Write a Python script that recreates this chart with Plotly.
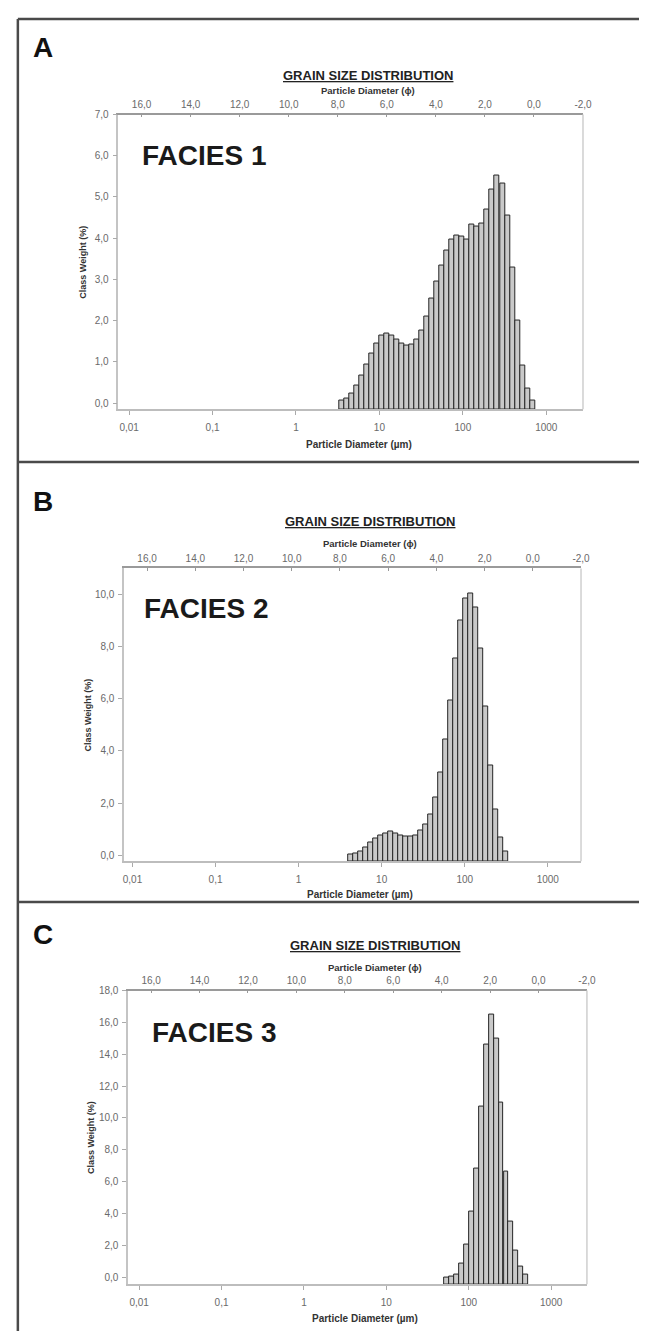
import numpy as np
import plotly.graph_objects as go

# ---------------- data ----------------
# class mid-point diameters (µm) and class weights (%)
diam_A = [3.52, 4.04, 4.64, 5.33, 6.12, 7.03, 8.07, 9.27, 10.7, 12.2, 14.1, 16.1, 18.5,
          21.3, 24.5, 28.1, 32.3, 37.1, 42.6, 49.0, 56.2, 64.6, 74.2, 85.3, 97.9, 112,
          129, 148, 171, 196, 225, 258, 297, 341, 392, 450, 517, 593, 682]
weight_A = [0.05, 0.11, 0.24, 0.42, 0.66, 0.94, 1.21, 1.45, 1.64, 1.68, 1.64, 1.53, 1.44,
            1.39, 1.43, 1.53, 1.76, 2.11, 2.54, 2.94, 3.34, 3.71, 3.96, 4.07, 4.03, 3.96,
            4.32, 4.28, 4.35, 4.69, 5.19, 5.51, 5.33, 4.54, 3.29, 1.99, 0.90, 0.34, 0.05]

diam_B = [4.28, 4.91, 5.64, 6.48, 7.44, 8.55, 9.82, 11.3, 13.0, 14.9, 17.1, 19.6, 22.5,
          25.9, 29.8, 34.2, 39.3, 45.1, 51.9, 59.6, 68.4, 78.5, 90.2, 104, 119, 137, 157,
          180, 207, 238, 274, 314]
weight_B = [0.03, 0.06, 0.13, 0.29, 0.47, 0.64, 0.76, 0.85, 0.89, 0.85, 0.76, 0.70, 0.70,
            0.76, 0.93, 1.17, 1.56, 2.23, 3.18, 4.43, 5.92, 7.54, 9.01, 9.83, 10.05, 9.50,
            7.93, 5.72, 3.46, 1.74, 0.67, 0.15]

diam_C = [53.7, 61.7, 70.9, 81.4, 93.5, 107, 123, 142, 163, 187, 215, 247, 284, 326, 374, 430, 494]
weight_C = [0.0, 0.05, 0.19, 0.88, 2.06, 4.10, 6.85, 10.71, 14.63, 16.5, 14.98, 10.94, 6.65,
            3.48, 1.65, 0.67, 0.15]

um_tick_values = [0.01, 0.1, 1, 10, 100, 1000]
um_tick_labels = ["0,01", "0,1", "1", "10", "100", "1000"]
phi_tick_values = [16, 14, 12, 10, 8, 6, 4, 2, 0, -2]
phi_tick_labels = ["16,0", "14,0", "12,0", "10,0", "8,0", "6,0", "4,0", "2,0", "0,0", "-2,0"]

facies_names = ["FACIES 1", "FACIES 2", "FACIES 3"]
panel_letters = ["A", "B", "C"]
title_text = "GRAIN SIZE DISTRIBUTION"
top_axis_title = "Particle Diameter (ϕ)"
bottom_axis_title = "Particle Diameter (µm)"
y_axis_title = "Class Weight (%)"

# ---------------- layout geometry (pixels) ----------------
W, H = 647, 1331
FONT = "Liberation Sans, Arial, sans-serif"


def px(x):
    return x / W


def py(y):
    return 1 - y / H


panels = [
    dict(d=diam_A, w=weight_A, yr=[-0.15, 7.0], ytv=[0, 1, 2, 3, 4, 5, 6, 7],
         xr=[-2.13, 3.44], left=111, right=583, top=101, bottom=397,
         letter_y=34, grain_y=62, phi_title_y=77, xlab_y=432, ytitle_x=75,
         facies_x=133, facies_y=142),
    dict(d=diam_B, w=weight_B, yr=[-0.23, 11.0], ytv=[0, 2, 4, 6, 8, 10],
         xr=[-2.10, 3.40], left=117, right=581, top=557, bottom=851,
         letter_y=490, grain_y=510, phi_title_y=532, xlab_y=884, ytitle_x=80,
         facies_x=135, facies_y=597),
    dict(d=diam_C, w=weight_C, yr=[-0.44, 18.0], ytv=[0, 2, 4, 6, 8, 10, 12, 14, 16, 18],
         xr=[-2.134, 3.434], left=121, right=587, top=981, bottom=1276,
         letter_y=925, grain_y=936, phi_title_y=958, xlab_y=1310, ytitle_x=84,
         facies_x=143, facies_y=1023),
]

fig = go.Figure()
layout = dict(width=W, height=H, margin=dict(l=0, r=0, t=0, b=0), autosize=False,
              paper_bgcolor="white", plot_bgcolor="white", showlegend=False,
              bargap=0, font=dict(family=FONT))
annotations = []
shapes = []

tickfont = dict(family=FONT, size=10, color="#6a6a6a")

for i, p in enumerate(panels):
    n = i + 1
    xb = "x" if n == 1 else f"x{n}"
    yb = "y" if n == 1 else f"y{n}"
    xt = f"x{n + 3}"
    d = np.array(p["d"], dtype=float)
    w = np.array(p["w"], dtype=float)
    logd = np.log10(d)
    step = float(np.mean(np.diff(logd)))
    ymin = p["yr"][0]

    fig.add_trace(go.Bar(
        x=logd, y=w - ymin, base=ymin, width=np.full(len(d), step),
        xaxis=xb, yaxis=yb,
        marker=dict(color="#c9c9c9", line=dict(color="#262626", width=1)),
        hoverinfo="skip"))
    # phi companion trace (invisible) so the top phi axis is drawn
    fig.add_trace(go.Scatter(
        x=-np.log2(d / 1000.0), y=w, xaxis=xt, yaxis=yb, mode="markers",
        marker=dict(opacity=0, size=1), hoverinfo="skip"))

    xdom = [px(p["left"]), px(p["right"])]
    ydom = [py(p["bottom"]), py(p["top"])]

    layout["xaxis" if n == 1 else f"xaxis{n}"] = dict(
        domain=xdom, anchor=yb, range=p["xr"], type="linear",
        tickvals=list(np.log10(um_tick_values)), ticktext=um_tick_labels,
        ticks="outside", ticklen=4, tickcolor="#aaaaaa", tickwidth=1,
        showline=True, linecolor="#bdbdbd", linewidth=1.5,
        showgrid=False, zeroline=False, tickfont=tickfont, ticklabelstandoff=4)
    layout[f"xaxis{n + 3}"] = dict(
        domain=xdom, anchor=yb, overlaying=xb, side="top", range=[16.95, -2.0],
        tickvals=phi_tick_values, ticktext=phi_tick_labels,
        ticks="inside", ticklen=3, tickcolor="#999999", tickwidth=1,
        showline=True, linecolor="#9a9a9a", linewidth=1.5,
        showgrid=False, zeroline=False, tickfont=tickfont, ticklabelstandoff=1)
    layout["yaxis" if n == 1 else f"yaxis{n}"] = dict(
        domain=ydom, anchor=xb, range=p["yr"],
        tickvals=p["ytv"], ticktext=[f"{v:.1f}".replace(".", ",") for v in p["ytv"]],
        ticks="outside", ticklen=4, tickcolor="#aaaaaa", tickwidth=1,
        showline=True, linecolor="#c4c4c4", linewidth=1.5,
        showgrid=False, zeroline=False, tickfont=tickfont, ticklabelstandoff=2)

    # right border of plot area
    shapes.append(dict(type="line", xref="paper", yref="paper",
                       x0=px(p["right"]), x1=px(p["right"]),
                       y0=py(p["bottom"]), y1=py(p["top"]),
                       line=dict(color="#cfcfcf", width=1.5)))

    cx = px((p["left"] + p["right"]) / 2 + 18)
    annotations += [
        dict(text=f"<b>{panel_letters[i]}</b>", x=px(22), y=py(p["letter_y"]),
             xref="paper", yref="paper", xanchor="left", yanchor="middle",
             showarrow=False, font=dict(family=FONT, size=28, color="#111")),
        dict(text=f"<b><u>{title_text}</u></b>", x=cx, y=py(p["grain_y"]),
             xref="paper", yref="paper", xanchor="center", yanchor="middle",
             showarrow=False, font=dict(family=FONT, size=13, color="#222")),
        dict(text=f"<b>{top_axis_title}</b>", x=cx, y=py(p["phi_title_y"]),
             xref="paper", yref="paper", xanchor="center", yanchor="middle",
             showarrow=False, font=dict(family=FONT, size=9.5, color="#333")),
        dict(text=f"<b>{bottom_axis_title}</b>", x=px((p["left"] + p["right"]) / 2 + 8),
             y=py(p["xlab_y"]), xref="paper", yref="paper", xanchor="center",
             yanchor="middle", showarrow=False,
             font=dict(family=FONT, size=10, color="#333")),
        dict(text=f"<b>{y_axis_title}</b>", x=px(p["ytitle_x"]),
             y=py((p["top"] + p["bottom"]) / 2), xref="paper", yref="paper",
             xanchor="center", yanchor="middle", textangle=-90, showarrow=False,
             font=dict(family=FONT, size=9, color="#333")),
        dict(text=f"<b>{facies_names[i]}</b>", x=px(p["facies_x"]), y=py(p["facies_y"]),
             xref="paper", yref="paper", xanchor="left", yanchor="middle",
             showarrow=False, font=dict(family=FONT, size=28, color="#1a1a1a")),
    ]

# outer panel frame
frame = dict(color="#4a4a4a", width=2.5)
for (x0, y0, x1, y1) in [(9, 5, 647, 5), (9, 5, 9, 1331), (9, 450, 647, 450), (9, 892, 647, 892)]:
    shapes.append(dict(type="line", xref="paper", yref="paper",
                       x0=px(x0), x1=px(x1), y0=py(y0), y1=py(y1), line=frame))

layout["annotations"] = annotations
layout["shapes"] = shapes
fig.update_layout(**layout)
fig.write_html("out.html")
